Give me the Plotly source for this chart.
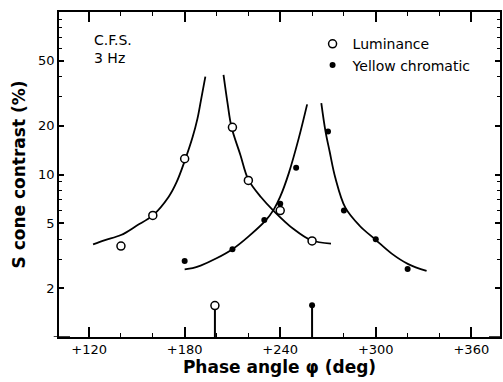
import plotly.graph_objects as go

# Measured points (phase angle deg, S cone contrast %)
lum_phase = [140, 160, 180, 210, 220, 240, 260]
lum_contrast = [3.63, 5.6, 12.5, 19.5, 9.2, 6.0, 3.9]

yel_phase = [180, 210, 230, 240, 250, 270, 280, 300, 320]
yel_contrast = [2.94, 3.47, 5.25, 6.6, 11.0, 18.4, 6.0, 4.0, 2.62]

# Fitted curves
lum_left_phase = [122.5, 130, 140, 150, 160, 170, 175, 180, 185, 188, 190.2, 193]
lum_left_contrast = [3.72, 3.95, 4.24, 4.85, 5.6, 7.3, 9.0, 12.1, 17.0, 22, 28.5, 40]
lum_right_phase = [204.4, 206.9, 209.4, 215, 220, 228, 236, 248.6, 259.4, 271.9]
lum_right_contrast = [41, 27.6, 19.6, 13.2, 9.3, 7.25, 5.96, 4.6, 3.94, 3.76]

yel_left_phase = [180, 185, 190, 200, 210, 220, 230.9, 236, 240, 245.4, 251.7, 256.9]
yel_left_contrast = [2.61, 2.65, 2.75, 3.05, 3.47, 4.15, 5.22, 6.1, 7.3, 10.2, 16.8, 27]
yel_right_phase = [265.8, 268.4, 271, 274.6, 280.9, 290, 299.6, 310, 320.4, 331.9]
yel_right_contrast = [27.5, 18.5, 13.9, 9.55, 6.25, 4.82, 3.99, 3.26, 2.81, 2.55]

# Null-phase stems
stem_phase = [199, 260]
stem_top = [1.56, 1.57]
stem_base = 1.0

x_tickvals = [120, 180, 240, 300, 360]
x_ticktext = ["+120", "+180", "+240", "+300", "+360"]
y_tickvals = [2, 5, 10, 20, 50]
y_ticktext = ["2", "5", "10", "20", "50"]
y_minorvals = [1, 2, 3, 4, 5, 6, 7, 8, 9, 10, 20, 30, 40, 50, 60, 70, 80, 90, 100]

FONT = "DejaVu Sans"
fig = go.Figure()

line_style = dict(color="black", width=1.8, shape="spline", smoothing=1.0)
for xs, ys in [(lum_left_phase, lum_left_contrast), (lum_right_phase, lum_right_contrast),
               (yel_left_phase, yel_left_contrast), (yel_right_phase, yel_right_contrast)]:
    fig.add_trace(go.Scatter(x=xs, y=ys, mode="lines", line=line_style,
                             showlegend=False, hoverinfo="skip"))

# stems
for p, t in zip(stem_phase, stem_top):
    fig.add_trace(go.Scatter(x=[p, p], y=[stem_base, t], mode="lines",
                             line=dict(color="black", width=2), showlegend=False,
                             cliponaxis=False, hoverinfo="skip"))

fig.add_trace(go.Scatter(x=[stem_phase[0]], y=[stem_top[0]], mode="markers",
                         marker=dict(symbol="circle", size=8, color="white",
                                     line=dict(color="black", width=1.5)),
                         showlegend=False))
fig.add_trace(go.Scatter(x=[stem_phase[1]], y=[stem_top[1]], mode="markers",
                         marker=dict(symbol="circle", size=6, color="black"),
                         showlegend=False))

fig.add_trace(go.Scatter(x=lum_phase, y=lum_contrast, mode="markers", name="Luminance",
                         marker=dict(symbol="circle", size=8, color="white",
                                     line=dict(color="black", width=1.5))))
fig.add_trace(go.Scatter(x=yel_phase, y=yel_contrast, mode="markers", name="Yellow chromatic",
                         marker=dict(symbol="circle", size=6, color="black")))

fig.add_annotation(x=0.075, y=0.885, xref="paper", yref="paper", xanchor="left",
                   yanchor="middle", align="left", showarrow=False,
                   text="C.F.S.<br>3 Hz", font=dict(family=FONT, size=14, color="black"))

# long tick at 10 on both sides
fig.add_shape(type="line", xref="paper", yref="y", x0=-0.012, x1=0.025, y0=1, y1=1,
              line=dict(color="black", width=1.5))
fig.add_shape(type="line", xref="paper", yref="y", x0=0.975, x1=1.0, y0=1, y1=1,
              line=dict(color="black", width=1.5))

fig.update_layout(
    width=503, height=382,
    margin=dict(l=59, r=1, t=12, b=45),
    paper_bgcolor="white", plot_bgcolor="white",
    font=dict(family=FONT, color="black"),
    legend=dict(x=0.575, y=0.95, xanchor="left", yanchor="top",
                font=dict(family=FONT, size=14, color="black"),
                bgcolor="rgba(0,0,0,0)", tracegroupgap=0, itemwidth=30),
    xaxis=dict(range=[101.1, 378], tickvals=x_tickvals, ticktext=x_ticktext,
               ticks="inside", ticklen=10, tickwidth=1.5, tickcolor="black",
               showline=True, linecolor="black", linewidth=1.5, mirror="ticks",
               showgrid=False, zeroline=False,
               tickfont=dict(family=FONT, size=13, color="black"),
               minor=dict(dtick=20, tick0=0, ticks="inside", ticklen=4,
                          tickwidth=1.2, tickcolor="black", showgrid=False),
               title=dict(text="<b>Phase angle φ (deg)</b>", standoff=4,
                          font=dict(family=FONT, size=17, color="black"))),
    yaxis=dict(type="log", range=[0, 2], tickvals=y_tickvals, ticktext=y_ticktext,
               ticks="inside", ticklen=5, tickwidth=1.5, tickcolor="black",
               showline=True, linecolor="black", linewidth=1.5, mirror="ticks",
               showgrid=False, zeroline=False,
               tickfont=dict(family=FONT, size=13, color="black"),
               minor=dict(tickvals=y_minorvals, ticks="inside", ticklen=3,
                          tickwidth=1.2, tickcolor="black", showgrid=False),
               title=dict(text="<b>S cone contrast (%)</b>", standoff=8,
                          font=dict(family=FONT, size=17, color="black"))),
)

fig.write_html("out.html")
